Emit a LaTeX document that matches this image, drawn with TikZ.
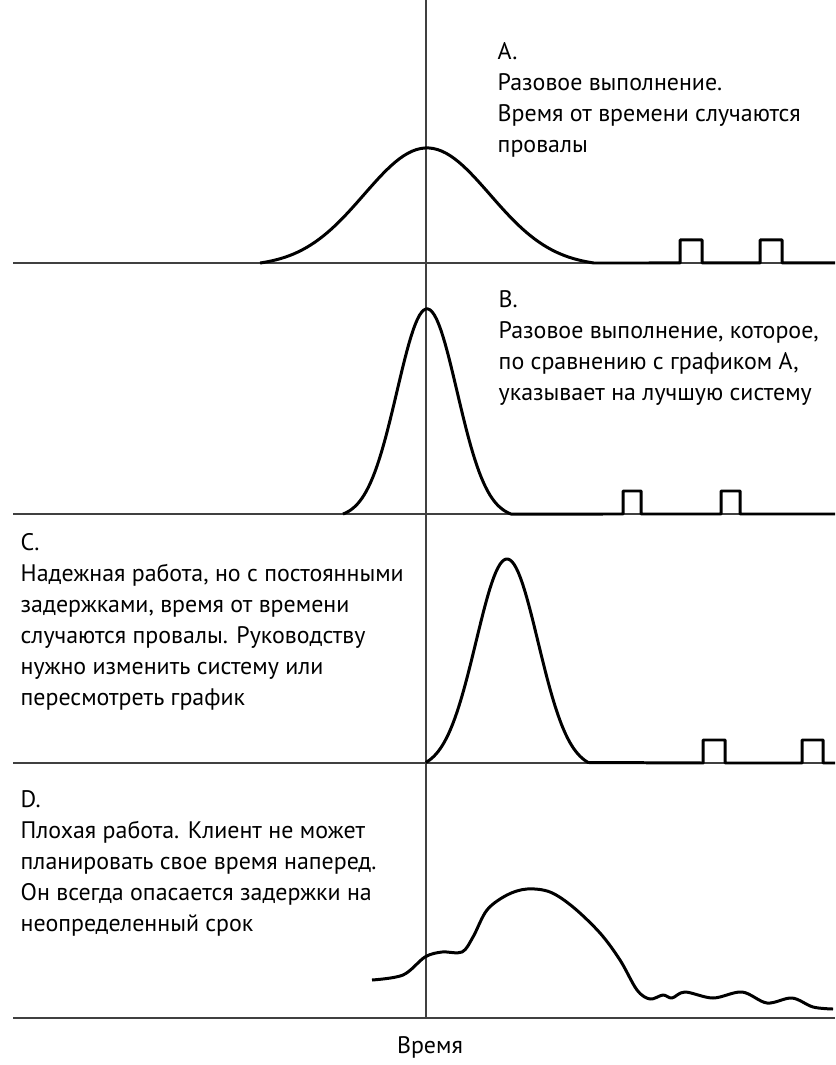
\documentclass[tikz,border=0pt]{standalone}
\usepackage{fontspec}
\setmainfont{PT Sans}
\usetikzlibrary{positioning}

\begin{document}
\begin{tikzpicture}[x=0.01cm, y=-0.01cm,
                    base/.style={line width=0.55pt, black!75},
                    curve/.style={line width=0.85pt, line join=round},
                    note/.style={anchor=north west, align=left, inner sep=0pt,
                                 font=\fontsize{6.8}{8.8}\selectfont}]
                    \useasboundingbox (0,0) rectangle (835,1065);
                    % time axis
                    \draw[base] (426,0) -- (426,1018);
                    \node[note, anchor=base] (time) at (430,1053) {Время};
                    % A
                    \draw[base] (13,263) -- (835,263);
                    \draw[curve] plot[domain=-2.65:2.65, samples=80] ({427+63*\x},{263-118.6*(exp(-0.5*(\x)^2)-0.03)})
                        -- (680,263) -- (680,240) -- (702,240) -- (702,263)
                        -- (760,263) -- (760,240) -- (782,240) -- (782,263) -- (835,263);
                    \node[note] (textA) at (497,42) {A.\\Разовое выполнение.\\Время от времени случаются\\провалы};
                    % B
                    \draw[base] (13,514) -- (835,514);
                    \draw[curve] plot[domain=-2.8:2.8, samples=80] ({427+30*\x},{514-209.3*(exp(-0.5*(\x)^2)-0.02)})
                        -- (623,514) -- (623,491) -- (641,491) -- (641,514)
                        -- (721,514) -- (721,491) -- (740,491) -- (740,514) -- (835,514);
                    \node[note] (textB) at (498,290) {B.\\Разовое выполнение, которое,\\по сравнению с графиком А,\\указывает на лучшую систему};
                    % C
                    \draw[base] (13,763) -- (835,763);
                    \draw[curve] plot[domain=-2.62:2.62, samples=80] ({507+31*\x},{763-210.3*(exp(-0.5*(\x)^2)-0.03)})
                        -- (703,763) -- (703,740) -- (725,740) -- (725,763)
                        -- (802,763) -- (802,740) -- (823,740) -- (823,763) -- (835,763);
                    \node[note] (textC) at (20,533) {C.\\Надежная работа, но с постоянными\\задержками, время от времени\\случаются провалы. Руководству\\нужно изменить систему или\\пересмотреть график};
                    % D
                    \draw[base] (13,1018) -- (835,1018);
                    \draw[curve] plot[smooth, tension=0.55] coordinates {(372,980) (403,975) (425,957) (442,952) (462,952)
                        (473,937) (487,910) (507,895) (527,889) (550,892) (573,907) (600,933) (620,960)
                        (637,990) (650,999) (663,995) (672,998) (685,992) (713,998) (742,992) (767,1003)
                        (792,998) (813,1007) (833,1009)};
                    \node[note] (textD) at (20,790) {D.\\Плохая работа. Клиент не может\\планировать свое время наперед.\\Он всегда опасается задержки на\\неопределенный срок};
                \end{tikzpicture}
\end{document}
